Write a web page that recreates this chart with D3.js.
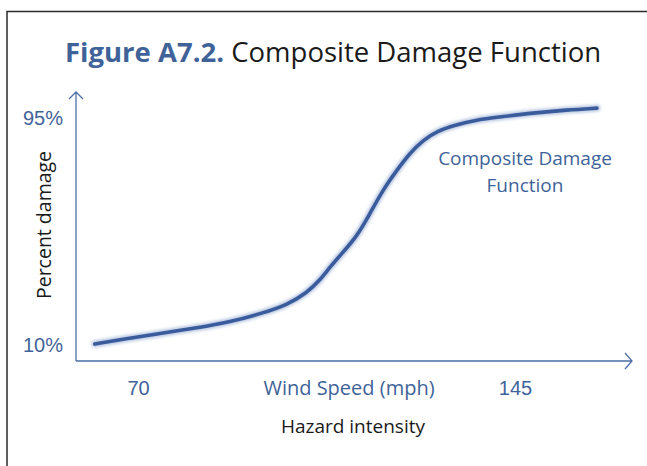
<!DOCTYPE html>
<html>
<head>
<meta charset="utf-8">
<script src="https://cdn.jsdelivr.net/npm/d3@7"></script>
<style>
  html, body { margin: 0; padding: 0; background: #fff; }
  svg { display: block; font-family: "Open Sans", "Noto Sans", sans-serif; }
</style>
</head>
<body>
<div id="chart"></div>
<script>
// wind speed (mph) and percent damage
const windSpeed = [61.4, 68.4, 75.0, 81.7, 88.3, 94.9, 99.6, 103.6, 106.2, 108.2, 110.8, 113.6, 116.2, 118.7, 121.5, 124.1, 126.7, 129.5, 133.1, 137.0, 142.0, 148.6, 155.3, 161.3];
const damagePct = [10.4, 12.6, 14.5, 16.4, 18.6, 22.0, 25.0, 29.5, 34.3, 39.2, 44.8, 50.8, 59.4, 68.0, 75.5, 81.9, 86.7, 90.1, 92.4, 94.2, 95.4, 96.9, 98.0, 98.7];
const xTicks = [70, 145];
const yTicks = [10, 95];
const titleBold = 'Figure A7.2.';
const titleRest = ' Composite Damage Function';
const xLabel = 'Wind Speed (mph)';
const xTitle = 'Hazard intensity';
const yTitle = 'Percent damage';
const seriesLabel = ['Composite Damage', 'Function'];

const width = 647, height = 466;
const blue = '#3f6399';
const axisBlue = '#4d6fa6';
const lineBlue = '#3a5c9c';

const svg = d3.select('#chart').append('svg')
  .attr('width', width)
  .attr('height', height);

const defs = svg.append('defs');
defs.append('filter').attr('id', 'soft')
  .attr('x', '-10%').attr('y', '-10%').attr('width', '120%').attr('height', '120%')
  .append('feGaussianBlur').attr('stdDeviation', 1.6);

// frame
svg.append('path')
  .attr('d', `M7,${height} V11.5 H${width}`)
  .attr('fill', 'none')
  .attr('stroke', '#2b2b2b')
  .attr('stroke-width', 1.5);

// title
const title = svg.append('text')
  .attr('x', 65)
  .attr('y', 62)
  .attr('font-size', 27.5);
title.append('tspan').text(titleBold).attr('font-weight', 'bold').attr('fill', blue);
title.append('tspan').text(titleRest).attr('fill', '#1a1a1a');

const x = d3.scaleLinear().domain([70, 145]).range([138, 515]);
const y = d3.scaleLinear().domain([10, 95]).range([345, 118]);

const axisX = 76, axisY = 361;

// axis lines with open arrow heads
svg.append('path')
  .attr('d', `M${axisX},${axisY} V92 M${axisX - 7},99 L${axisX},92 L${axisX + 7},99`)
  .attr('fill', 'none').attr('stroke', axisBlue).attr('stroke-width', 1.3);
svg.append('path')
  .attr('d', `M${axisX},${axisY} H632 M625,${axisY - 8} L632,${axisY} L625,${axisY + 8}`)
  .attr('fill', 'none').attr('stroke', axisBlue).attr('stroke-width', 1.3);

// y tick labels
const gy = svg.append('g')
  .attr('transform', `translate(${axisX},0)`)
  .call(d3.axisLeft(y).tickValues(yTicks).tickSize(0).tickPadding(13).tickFormat(d => d + '%'));
gy.select('.domain').remove();
gy.selectAll('text').attr('font-size', 20).attr('fill', blue).attr('font-family', null);

// x tick labels
const gx = svg.append('g')
  .attr('transform', `translate(0,${axisY})`)
  .call(d3.axisBottom(x).tickValues(xTicks).tickSize(0).tickPadding(20));
gx.select('.domain').remove();
gx.selectAll('text').attr('font-size', 20).attr('fill', blue).attr('font-family', null);

svg.append('text')
  .attr('x', 349).attr('y', 395)
  .attr('text-anchor', 'middle')
  .attr('font-size', 20)
  .attr('fill', blue)
  .text(xLabel);

svg.append('text')
  .attr('x', 353).attr('y', 433)
  .attr('text-anchor', 'middle')
  .attr('font-size', 19)
  .attr('fill', '#1a1a1a')
  .text(xTitle);

svg.append('text')
  .attr('transform', 'translate(51,225) rotate(-90)')
  .attr('text-anchor', 'middle')
  .attr('font-size', 19.5)
  .attr('fill', '#1a1a1a')
  .text(yTitle);

// curve
const pts = windSpeed.map((w, i) => [w, damagePct[i]]);
const line = d3.line()
  .x(d => x(d[0]))
  .y(d => y(d[1]))
  .curve(d3.curveBasis);

svg.append('path')
  .datum(pts)
  .attr('d', line)
  .attr('fill', 'none')
  .attr('stroke', '#8fa6cf')
  .attr('stroke-width', 7)
  .attr('stroke-linecap', 'round')
  .attr('opacity', 0.6)
  .attr('filter', 'url(#soft)');

svg.append('path')
  .datum(pts)
  .attr('d', line)
  .attr('fill', 'none')
  .attr('stroke', lineBlue)
  .attr('stroke-width', 3.6)
  .attr('stroke-linecap', 'round');

// series label
const lab = svg.append('text')
  .attr('text-anchor', 'middle')
  .attr('font-size', 19)
  .attr('fill', blue);
seriesLabel.forEach((t, i) => {
  lab.append('tspan').attr('x', 525).attr('y', 165 + i * 27).text(t);
});
</script>
</body>
</html>
